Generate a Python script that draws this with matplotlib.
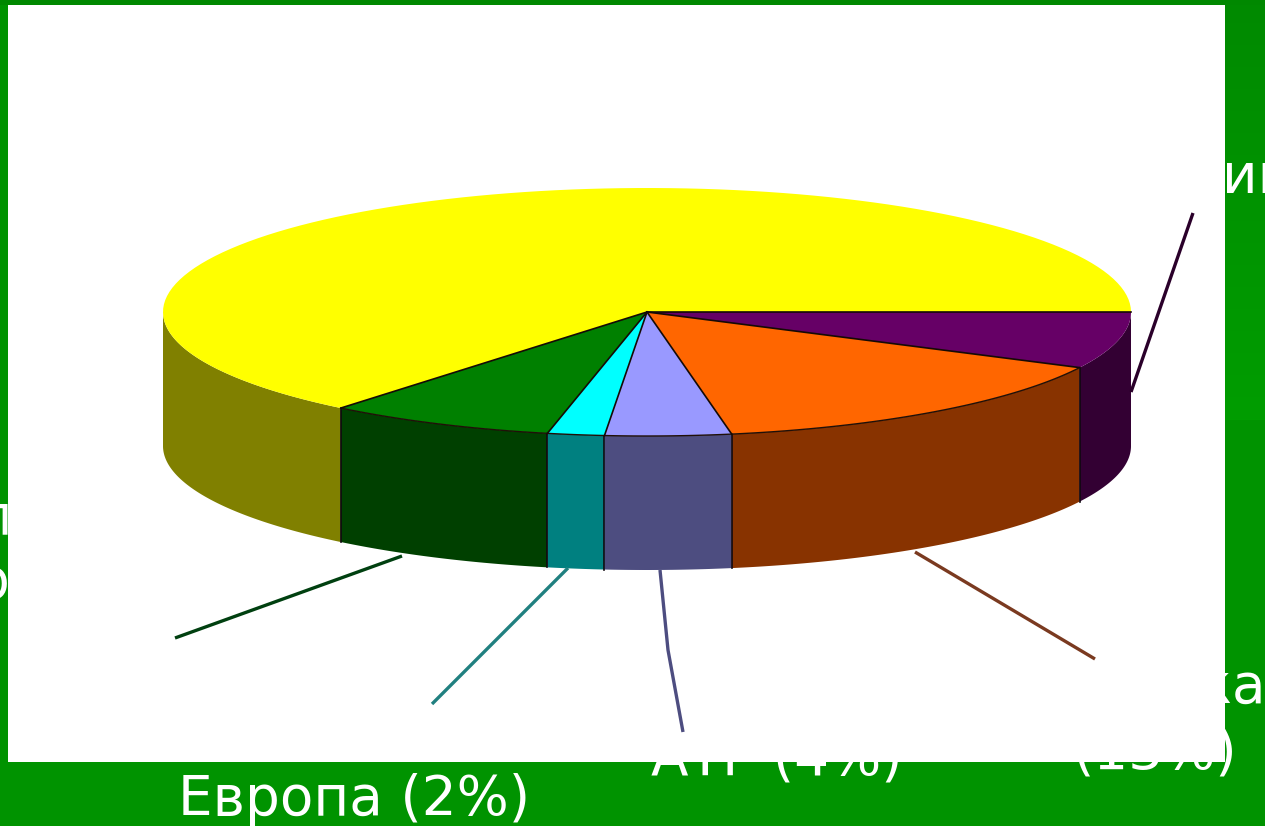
import numpy as np
import matplotlib
matplotlib.use("Agg")
import matplotlib.pyplot as plt
from matplotlib.patches import Polygon, Rectangle

# Slice shares (%), clockwise from the 3 o'clock position
slice_names = ["Purple", "Africa", "APR", "Europe", "Green", "Yellow"]
slice_values = [7.4, 14.8, 4.2, 1.9, 7.6, 64.1]
top_colors = ["#660066", "#FF6600", "#9999FF", "#00FFFF", "#008000", "#FFFF00"]
side_colors = ["#330033", "#883300", "#4D4D80", "#008080", "#004000", "#808000"]

CX, CY, RX, RY, DEPTH = 647.0, 312.0, 484.0, 124.0, 134.0

fig = plt.figure(figsize=(12.65, 8.26), dpi=100)
ax = fig.add_axes([0, 0, 1, 1])
ax.set_xlim(0, 1265)
ax.set_ylim(826, 0)
ax.axis("off")

# Slide background
fig.patch.set_facecolor("#009300")
ax.add_patch(Rectangle((0, 0), 1265, 826, fc="#009300", ec="none", zorder=0))
grad = np.zeros((420, 1, 3))
grad[:, 0, 1] = np.linspace(0x8A, 0x9D, 420) / 255
ax.imshow(grad, extent=(1225, 1265, 420, 0), aspect="auto", zorder=0.5)
ax.set_xlim(0, 1265)
ax.set_ylim(826, 0)
ax.add_patch(Rectangle((0, 0), 1265, 5, fc="#008800", ec="none", zorder=0.6))

# Labels lying partly beneath the pasted chart image
txt = dict(color="white", family="DejaVu Sans", fontsize=39.5, zorder=1, va="baseline")
ax.text(178, 815, "Европа (2%)", ha="left", **txt)
ax.text(777, 775, "АТР (4%)", ha="center", **txt)
ax.text(1237, 768, "(13%)", ha="right", **txt)
ax.text(1266, 703, "Африка", ha="right", **txt)
ax.text(1222, 193, "ии", ha="left", **txt)
ax.text(12, 533, "л", ha="right", **txt)
ax.text(10, 598, "р", ha="right", **txt)

# White chart image
ax.add_patch(Rectangle((8, 5), 1217, 757, fc="white", ec="none", zorder=2))

def arc(t0, t1, dy=0.0, n=120):
    t = np.radians(np.linspace(t0, t1, n))
    return np.column_stack([CX + RX * np.cos(t), CY + dy + RY * np.sin(t)])

edges = np.concatenate([[0], np.cumsum(slice_values)]) / sum(slice_values) * 360

# Side walls (front half only)
for i, col in enumerate(side_colors):
    t0, t1 = edges[i], min(edges[i + 1], 180)
    if t0 >= 180:
        continue
    top = arc(t0, t1)
    bottom = arc(t1, t0, DEPTH)
    ax.add_patch(Polygon(np.vstack([top, bottom]), closed=True, fc=col, ec="none", zorder=3))
    if t0 > 0:
        p0 = arc(t0, t0, 0, 1)[0]
        ax.plot([p0[0], p0[0]], [p0[1], p0[1] + DEPTH], color="#100810", lw=1.2, zorder=4)

# Top faces
for i, col in enumerate(top_colors):
    a = arc(edges[i], edges[i + 1])
    ax.add_patch(Polygon(np.vstack([[CX, CY], a]), closed=True, fc=col, ec="none", zorder=5))
    if 0 < i < len(top_colors) - 1:
        ax.plot(a[:, 0], a[:, 1], color="#201008", lw=1.0, zorder=6)

# Radial separators
for e in edges[:-1]:
    p = arc(e, e, 0, 1)[0]
    ax.plot([CX, p[0]], [CY, p[1]], color="#150a05", lw=1.2, zorder=6)

# Leader lines
leaders = {
    "#2A002A": ([1131, 1193], [392, 213]),
    "#7A3A20": ([915, 1095], [552, 659]),
    "#4D4D80": ([660, 668, 683], [570, 650, 732]),
    "#208080": ([568, 432], [568, 704]),
    "#004010": ([402, 175], [556, 638]),
}
for col, (xs, ys) in leaders.items():
    ax.plot(xs, ys, color=col, lw=2.4, zorder=3, solid_capstyle="butt")

fig.savefig("out.png", dpi=100, facecolor=fig.get_facecolor())
